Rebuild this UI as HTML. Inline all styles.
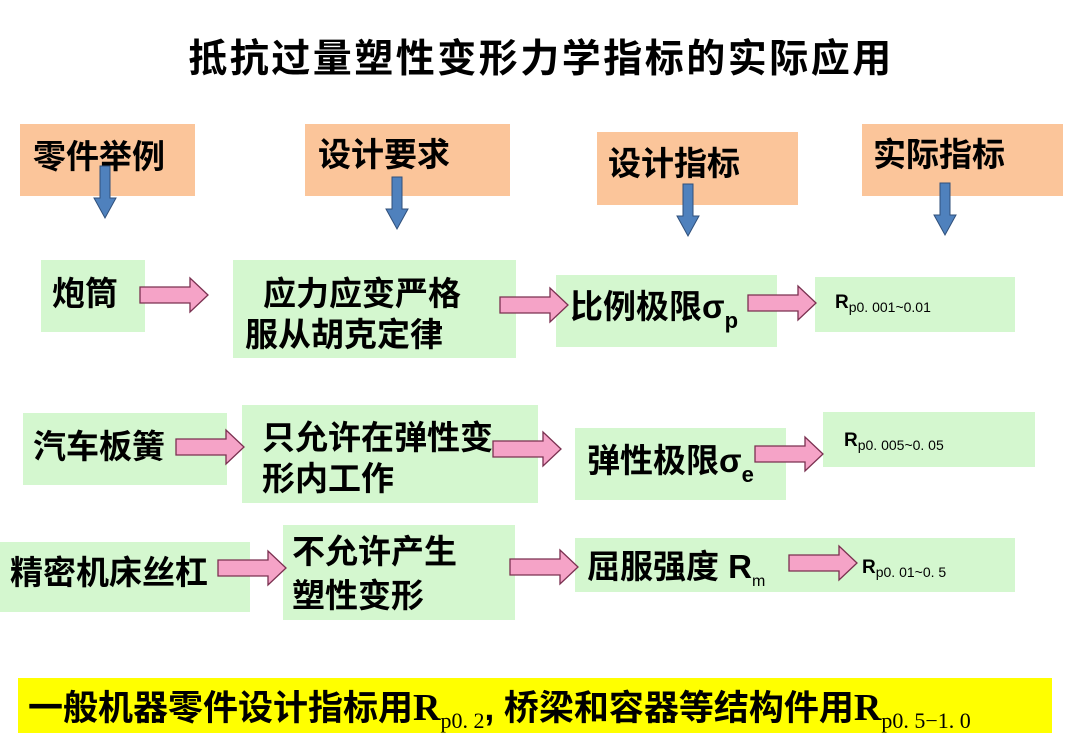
<!DOCTYPE html>
<html><head><meta charset="utf-8"><style>
html,body{margin:0;padding:0;background:#fff;}
svg{display:block}
text{font-family:"Liberation Sans","Noto Sans CJK SC",sans-serif;font-weight:bold;fill:#000}
.g{fill:#d4f7cf}
.o{fill:#fbc59a}
.pa{fill:#f5a3c7;stroke:#7a3050;stroke-width:1.3}
.ba{fill:#4f81bd;stroke:#2f4f7a;stroke-width:1}
</style></head><body>
<svg width="1080" height="744" viewBox="0 0 1080 744" xmlns="http://www.w3.org/2000/svg">
<defs>
<path id="pk" d="M0,-8 L50,-8 L50,-17 L68,0 L50,17 L50,8 L0,8 Z"/>
<path id="bl" d="M-5,0 L5,0 L5,32 L11,32 L0,52 L-11,32 L-5,32 Z"/>
</defs>
<text x="541" y="72" font-size="39" text-anchor="middle" letter-spacing="2.5">抵抗过量塑性变形力学指标的实际应用</text>

<rect class="o" x="20" y="124" width="175" height="72"/>
<rect class="o" x="305" y="124" width="205" height="72"/>
<rect class="o" x="597" y="132" width="201" height="73"/>
<rect class="o" x="862" y="124" width="201" height="72"/>
<text x="33" y="168" font-size="33">零件举例</text>
<text x="318" y="166" font-size="33">设计要求</text>
<text x="608" y="175" font-size="33">设计指标</text>
<text x="873" y="166" font-size="33">实际指标</text>
<use href="#bl" class="ba" x="105" y="166"/>
<use href="#bl" class="ba" x="397" y="177"/>
<use href="#bl" class="ba" x="688" y="184"/>
<use href="#bl" class="ba" x="945" y="183"/>

<rect class="g" x="41" y="260" width="104" height="72"/>
<rect class="g" x="233" y="260" width="283" height="98"/>
<rect class="g" x="556" y="275" width="221" height="72"/>
<rect class="g" x="815" y="277" width="200" height="55"/>
<text x="52" y="305" font-size="33">炮筒</text>
<text x="263" y="305" font-size="33">应力应变严格</text>
<text x="245" y="346" font-size="33">服从胡克定律</text>
<text x="570" y="318" font-size="33">比例极限σ<tspan font-size="22" dy="10">p</tspan></text>
<text x="835" y="308" font-size="19">R<tspan font-size="14" dy="4" font-weight="normal">p0. 001~0.01</tspan></text>
<use href="#pk" class="pa" x="140" y="295"/>
<use href="#pk" class="pa" x="500" y="305"/>
<use href="#pk" class="pa" x="748" y="303"/>

<rect class="g" x="23" y="413" width="204" height="72"/>
<rect class="g" x="242" y="405" width="296" height="98"/>
<rect class="g" x="575" y="428" width="211" height="72"/>
<rect class="g" x="823" y="412" width="212" height="55"/>
<text x="33" y="458" font-size="33">汽车板簧</text>
<text x="262" y="449" font-size="33">只允许在弹性变</text>
<text x="262" y="490" font-size="33">形内工作</text>
<text x="587" y="472" font-size="33">弹性极限σ<tspan font-size="22" dy="10">e</tspan></text>
<text x="844" y="446" font-size="19">R<tspan font-size="14" dy="4" font-weight="normal">p0. 005~0. 05</tspan></text>
<use href="#pk" class="pa" x="176" y="447"/>
<use href="#pk" class="pa" x="493" y="449"/>
<use href="#pk" class="pa" x="755" y="454"/>

<rect class="g" x="0" y="542" width="250" height="70"/>
<rect class="g" x="283" y="525" width="232" height="95"/>
<rect class="g" x="575" y="538" width="440" height="54"/>
<text x="10" y="584" font-size="33">精密机床丝杠</text>
<text x="292" y="563" font-size="33">不允许产生</text>
<text x="292" y="607" font-size="33">塑性变形</text>
<text x="587" y="578" font-size="33">屈服强度 R<tspan font-size="16" dy="8" font-weight="normal">m</tspan></text>
<text x="862" y="573" font-size="19">R<tspan font-size="14" dy="4" font-weight="normal">p0. 01~0. 5</tspan></text>
<use href="#pk" class="pa" x="218" y="568"/>
<use href="#pk" class="pa" x="510" y="567"/>
<use href="#pk" class="pa" x="789" y="563"/>

<rect x="18" y="678" width="1034" height="55" fill="#ffff00"/>
<text x="28" y="720" font-size="35">一般机器零件设计指标用<tspan font-family="Liberation Serif,serif" font-size="38">R</tspan><tspan font-family="Liberation Serif,serif" font-size="22" font-weight="normal" dy="8">p0. 2</tspan><tspan dy="-8">, 桥梁和容器等结构件用</tspan><tspan font-family="Liberation Serif,serif" font-size="38">R</tspan><tspan font-family="Liberation Serif,serif" font-size="22" font-weight="normal" dy="8">p0. 5−1. 0</tspan></text>
</svg>
</body></html>
